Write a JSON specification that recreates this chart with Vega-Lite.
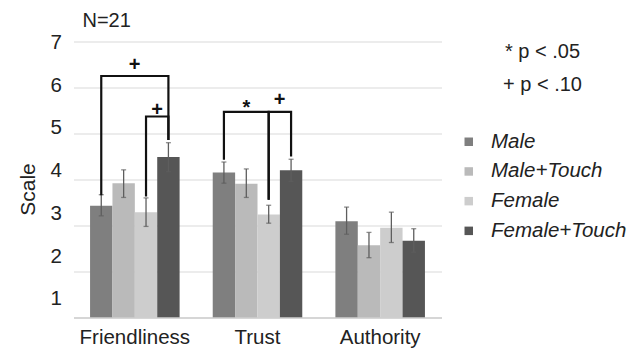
{
  "$schema": "https://vega.github.io/schema/vega-lite/v6.json",
  "autosize": {"type": "none"},
  "width": 368,
  "height": 276,
  "padding": {"left": 73.5, "top": 41.5, "right": 200.5, "bottom": 30.5},
  "background": "white",
  "config": {
    "font": "Liberation Sans",
    "view": {"stroke": null},
    "axis": {"labelFont": "Liberation Sans", "titleFont": "Liberation Sans", "labelColor": "#222", "titleColor": "#222"},
    "legend": {"labelFont": "Liberation Sans", "titleFont": "Liberation Sans"}
  },
  "title": {
    "text": "N=21",
    "anchor": "start",
    "frame": "group",
    "fontSize": 20,
    "fontWeight": "normal",
    "color": "#222",
    "dx": 9,
    "offset": 1
  },
  "datasets": {
    "means": [
      {"measure": "Friendliness", "condition": "Male", "mean": 3.43, "lo": 3.21, "hi": 3.67},
      {"measure": "Friendliness", "condition": "Male+Touch", "mean": 3.92, "lo": 3.61, "hi": 4.21},
      {"measure": "Friendliness", "condition": "Female", "mean": 3.29, "lo": 2.98, "hi": 3.60},
      {"measure": "Friendliness", "condition": "Female+Touch", "mean": 4.49, "lo": 4.17, "hi": 4.80},
      {"measure": "Trust", "condition": "Male", "mean": 4.15, "lo": 3.92, "hi": 4.38},
      {"measure": "Trust", "condition": "Male+Touch", "mean": 3.91, "lo": 3.61, "hi": 4.23},
      {"measure": "Trust", "condition": "Female", "mean": 3.24, "lo": 3.05, "hi": 3.44},
      {"measure": "Trust", "condition": "Female+Touch", "mean": 4.20, "lo": 3.96, "hi": 4.44},
      {"measure": "Authority", "condition": "Male", "mean": 3.09, "lo": 2.81, "hi": 3.40},
      {"measure": "Authority", "condition": "Male+Touch", "mean": 2.57, "lo": 2.30, "hi": 2.85},
      {"measure": "Authority", "condition": "Female", "mean": 2.95, "lo": 2.63, "hi": 3.29},
      {"measure": "Authority", "condition": "Female+Touch", "mean": 2.67, "lo": 2.42, "hi": 2.93}
    ],
    "brackets": [
      {"id": "F-outer", "side": "right", "measure": "Friendliness", "condition": "Male", "y": 3.66, "o": 1},
      {"id": "F-outer", "side": "right", "measure": "Friendliness", "condition": "Male", "y": 6.25, "o": 2},
      {"id": "F-outer", "side": "right", "measure": "Friendliness", "condition": "Female+Touch", "y": 6.25, "o": 3},
      {"id": "F-outer", "side": "right", "measure": "Friendliness", "condition": "Female+Touch", "y": 4.86, "o": 4},
      {"id": "F-inner", "side": "left", "measure": "Friendliness", "condition": "Female", "y": 3.63, "o": 1},
      {"id": "F-inner", "side": "left", "measure": "Friendliness", "condition": "Female", "y": 5.37, "o": 2},
      {"id": "F-inner", "side": "left", "measure": "Friendliness", "condition": "Female+Touch", "y": 5.37, "o": 3},
      {"id": "F-inner", "side": "left", "measure": "Friendliness", "condition": "Female+Touch", "y": 4.86, "o": 4},
      {"id": "T-star", "side": "left", "measure": "Trust", "condition": "Male", "y": 4.43, "o": 1},
      {"id": "T-star", "side": "left", "measure": "Trust", "condition": "Male", "y": 5.47, "o": 2},
      {"id": "T-star", "side": "left", "measure": "Trust", "condition": "Female", "y": 5.47, "o": 3},
      {"id": "T-star", "side": "left", "measure": "Trust", "condition": "Female", "y": 3.56, "o": 4},
      {"id": "T-plus", "side": "right", "measure": "Trust", "condition": "Female", "y": 3.56, "o": 1},
      {"id": "T-plus", "side": "right", "measure": "Trust", "condition": "Female", "y": 5.47, "o": 2},
      {"id": "T-plus", "side": "right", "measure": "Trust", "condition": "Female+Touch", "y": 5.47, "o": 3},
      {"id": "T-plus", "side": "right", "measure": "Trust", "condition": "Female+Touch", "y": 4.50, "o": 4}
    ],
    "signif": [
      {"measure": "Friendliness", "condition": "Male+Touch", "between": true, "y": 6.35, "sym": "+"},
      {"measure": "Friendliness", "condition": "Female", "between": true, "y": 5.39, "sym": "+"},
      {"measure": "Trust", "condition": "Male+Touch", "between": false, "y": 5.42, "sym": "*"},
      {"measure": "Trust", "condition": "Female", "between": true, "y": 5.59, "sym": "+"}
    ]
  },
  "layer": [
    {
      "encoding": {
        "x": {
          "field": "measure",
          "type": "nominal",
          "sort": ["Friendliness", "Trust", "Authority"],
          "scale": {"paddingInner": 0.27, "paddingOuter": 0.135},
          "axis": {
            "title": null,
            "labelAngle": 0,
            "labelFontSize": 20.5,
            "labelPadding": 10,
            "ticks": false,
            "domainColor": "#bfbfbf",
            "domainWidth": 1.2,
            "zindex": 1
          }
        },
        "xOffset": {
          "field": "condition",
          "type": "nominal",
          "scale": {"domain": ["Male", "Male+Touch", "Female", "Female+Touch"], "paddingInner": 0, "paddingOuter": 0}
        }
      },
      "layer": [
        {
          "data": {"name": "means"},
          "mark": {"type": "bar"},
          "encoding": {
            "y": {
              "field": "mean",
              "type": "quantitative",
              "scale": {"domain": [1, 7], "nice": false, "zero": false},
              "axis": {
                "title": null,
                "values": [1, 2, 3, 4, 5, 6, 7],
                "grid": true,
                "gridColor": "#d9d9d9",
                "gridWidth": 1.2,
                "labels": false,
                "ticks": false,
                "domain": false
              }
            },
            "y2": {"datum": 1},
            "color": {
              "field": "condition",
              "type": "nominal",
              "scale": {
                "domain": ["Male", "Male+Touch", "Female", "Female+Touch"],
                "range": ["#7f7f7f", "#bababa", "#cdcdcd", "#565656"]
              },
              "legend": {
                "title": ["* p < .05", "+ p < .10"],
                "orient": "none",
                "legendX": 385,
                "legendY": 0,
                "padding": 0,
                "symbolType": "square",
                "symbolSize": 72,
                "symbolStrokeWidth": 0,
                "labelFontSize": 20.5,
                "labelFontStyle": "italic",
                "labelColor": "#222",
                "labelOffset": 12,
                "rowPadding": 8.7,
                "titleFontSize": 20,
                "titleFontWeight": "normal",
                "titleColor": "#222",
                "titleLineHeight": 33,
                "titleAnchor": "middle",
                "titleAlign": "center",
                "titlePadding": 37
              }
            }
          }
        },
        {
          "data": {"name": "means"},
          "mark": {"type": "rule", "color": "#5e5e5e", "strokeWidth": 1.3},
          "encoding": {
            "y": {"field": "lo", "type": "quantitative"},
            "y2": {"field": "hi"}
          }
        },
        {
          "data": {"name": "means"},
          "mark": {"type": "tick", "orient": "horizontal", "color": "#5e5e5e", "size": 5, "thickness": 1.3},
          "encoding": {"y": {"field": "lo", "type": "quantitative"}}
        },
        {
          "data": {"name": "means"},
          "mark": {"type": "tick", "orient": "horizontal", "color": "#5e5e5e", "size": 5, "thickness": 1.3},
          "encoding": {"y": {"field": "hi", "type": "quantitative"}}
        },
        {
          "data": {"name": "brackets"},
          "transform": [{"filter": "datum.side === 'left'"}],
          "mark": {"type": "line", "color": "#111", "strokeWidth": 2.2, "strokeJoin": "miter", "strokeCap": "butt", "xOffset": -1.5},
          "encoding": {
            "y": {"field": "y", "type": "quantitative"},
            "detail": {"field": "id"},
            "order": {"field": "o", "type": "quantitative"}
          }
        },
        {
          "data": {"name": "brackets"},
          "transform": [{"filter": "datum.side === 'right'"}],
          "mark": {"type": "line", "color": "#111", "strokeWidth": 2.2, "strokeJoin": "miter", "strokeCap": "butt", "xOffset": 1.5},
          "encoding": {
            "y": {"field": "y", "type": "quantitative"},
            "detail": {"field": "id"},
            "order": {"field": "o", "type": "quantitative"}
          }
        },
        {
          "data": {"name": "signif"},
          "transform": [{"filter": "datum.between"}],
          "mark": {"type": "text", "fontSize": 20, "fontWeight": "bold", "color": "#111", "baseline": "alphabetic", "align": "center", "dx": 11},
          "encoding": {
            "y": {"field": "y", "type": "quantitative"},
            "text": {"field": "sym"}
          }
        },
        {
          "data": {"name": "signif"},
          "transform": [{"filter": "!datum.between"}],
          "mark": {"type": "text", "fontSize": 20, "fontWeight": "bold", "color": "#111", "baseline": "alphabetic", "align": "center"},
          "encoding": {
            "y": {"field": "y", "type": "quantitative"},
            "text": {"field": "sym"}
          }
        }
      ]
    },
    {
      "data": {"name": "means"},
      "mark": {"type": "tick", "opacity": 0},
      "encoding": {
        "y": {
          "field": "mean",
          "type": "quantitative",
          "scale": {"domain": [0.563, 7.019], "nice": false, "zero": false},
          "axis": {
            "orient": "left",
            "title": "Scale",
            "titleFontSize": 21,
            "titleFontWeight": "normal",
            "titlePadding": 12,
            "titleY": 147.5,
            "values": [1, 2, 3, 4, 5, 6, 7],
            "labelFontSize": 20.5,
            "labelPadding": 12,
            "grid": false,
            "ticks": false,
            "domain": false
          }
        }
      }
    }
  ],
  "resolve": {"scale": {"y": "independent"}, "axis": {"y": "independent"}}
}
